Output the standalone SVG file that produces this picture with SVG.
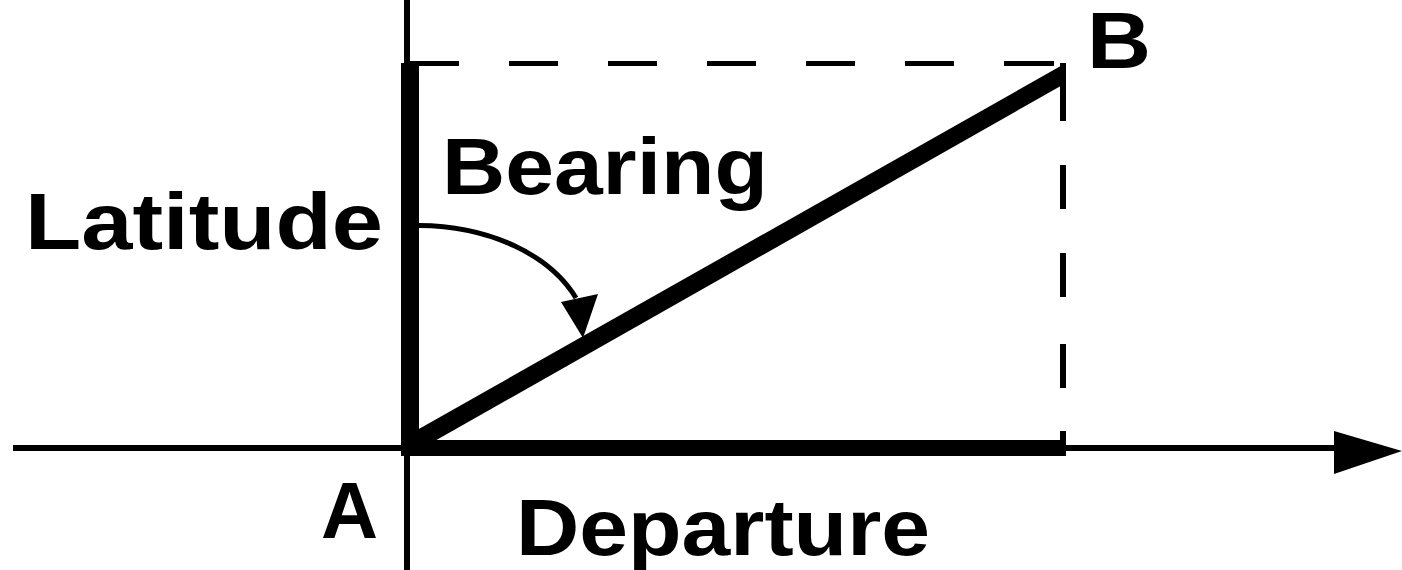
<svg xmlns="http://www.w3.org/2000/svg" width="1402" height="570" viewBox="0 0 1402 570">
  <style>
    .lbl { font-family: "Liberation Sans", Arial, sans-serif; font-weight: bold; font-size: 79px; fill: #000; }
    .ink { fill: #000; }
    .thin { stroke: #000; stroke-width: 6; fill: none; }
    .dash { fill: #000; }
    .arc { stroke: #000; stroke-width: 5; fill: none; }
  </style>
  <rect x="0" y="0" width="1402" height="570" fill="#fff"/>
  <g id="connectors">
    <g id="axes" shape-rendering="crispEdges">
      <rect class="ink" x="404" y="0" width="6" height="570"/>
      <rect class="ink" x="13" y="445" width="1322" height="6"/>
    </g>
    <polygon id="axis-arrowhead" class="ink" points="1334,431 1402,451 1334,474"/>
    <g id="dashed-top" shape-rendering="crispEdges">
      <rect class="dash" x="410" y="61" width="49" height="5"/>
      <rect class="dash" x="509" y="61" width="49" height="5"/>
      <rect class="dash" x="608" y="61" width="49" height="5"/>
      <rect class="dash" x="707" y="61" width="49" height="5"/>
      <rect class="dash" x="806" y="61" width="49" height="5"/>
      <rect class="dash" x="905" y="61" width="49" height="5"/>
      <rect class="dash" x="1004" y="61" width="50" height="5"/>
    </g>
    <g id="dashed-right" shape-rendering="crispEdges">
      <rect class="dash" x="1060" y="63" width="6" height="58"/>
      <rect class="dash" x="1060" y="165" width="6" height="44"/>
      <rect class="dash" x="1060" y="253" width="6" height="44"/>
      <rect class="dash" x="1060" y="344" width="6" height="44"/>
      <rect class="dash" x="1060" y="431" width="6" height="25"/>
    </g>
    <rect id="latitude-line" class="ink" x="401" y="63" width="18" height="393" shape-rendering="crispEdges"/>
    <rect id="departure-line" class="ink" x="401" y="440" width="664" height="16" shape-rendering="crispEdges"/>
    <polygon id="course-line" class="ink" points="410,434 1066,63 1066,83 410,455"/>
    <path id="bearing-arc" class="arc" d="M419,225.5 C490,226 550,255 576,298"/>
    <polygon id="bearing-arrowhead" class="ink" points="561,302 598,294 583,338"/>
  </g>
  <g id="label-latitude"><text class="lbl" x="25" y="249" textLength="358" lengthAdjust="spacingAndGlyphs">Latitude</text></g>
  <g id="label-bearing"><text class="lbl" x="442" y="194" textLength="326" lengthAdjust="spacingAndGlyphs">Bearing</text></g>
  <g id="label-departure"><text class="lbl" x="516" y="555" textLength="414" lengthAdjust="spacingAndGlyphs">Departure</text></g>
  <g id="point-A"><text class="lbl" x="321" y="538">A</text></g>
  <g id="point-B"><text class="lbl" x="1087" y="68" textLength="64" lengthAdjust="spacingAndGlyphs">B</text></g>
</svg>
